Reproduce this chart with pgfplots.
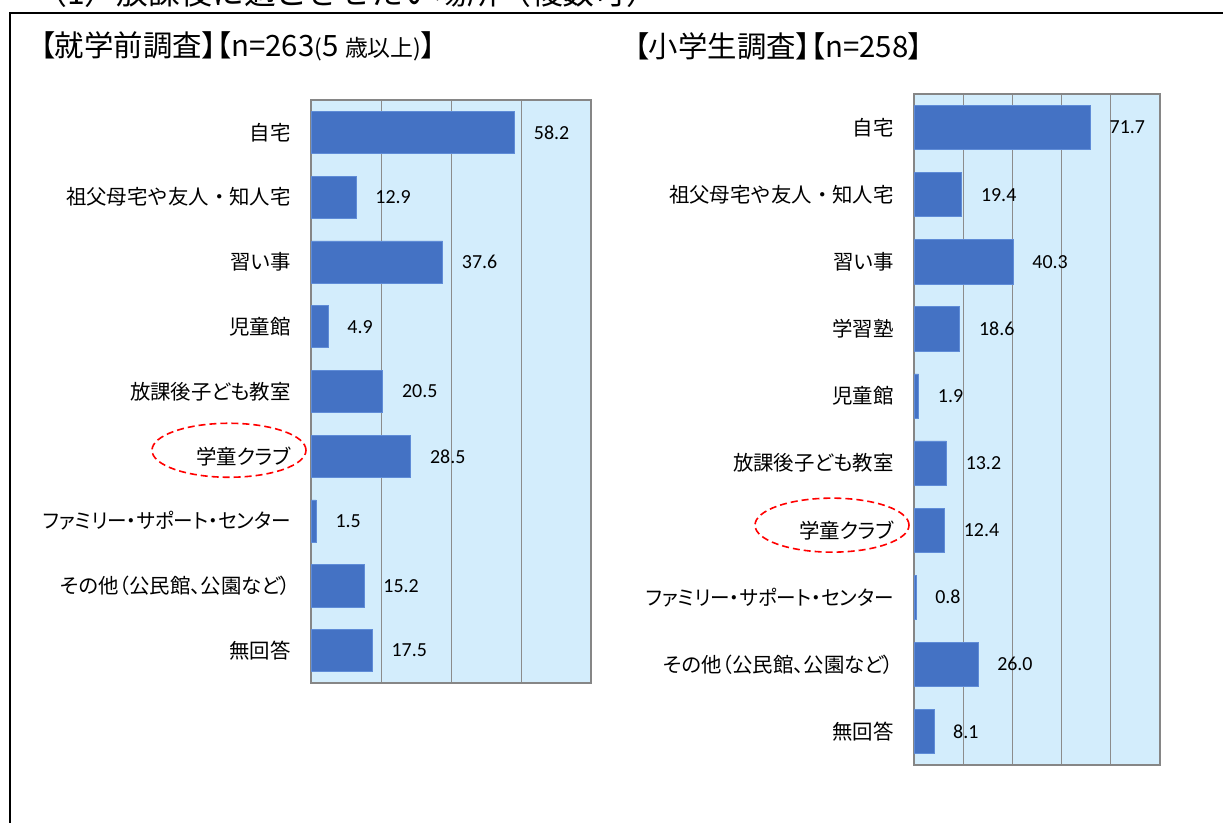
\documentclass[border=0pt]{standalone}
\usepackage{fontspec}
\usepackage{pgfplots}
\usepackage{pgfplotstable}
\pgfplotsset{compat=1.18}
\setmainfont{Carlito}
\newfontfamily\jp[RawFeature=+palt]{Noto Sans CJK JP}
\newfontfamily\jpf{Noto Sans CJK JP}
\definecolor{barblue}{RGB}{68,114,196}
\definecolor{baredge}{RGB}{95,140,215}
\definecolor{bgblue}{RGB}{211,237,252}
\definecolor{gridgray}{RGB}{140,140,140}
\definecolor{axgray}{RGB}{134,134,134}

\pgfplotstableread{
y v
0 58.2
1 12.9
2 37.6
3 4.9
4 20.5
5 28.5
6 1.5
7 15.2
8 17.5
}\leftdata

\pgfplotstableread{
y v
0 71.7
1 19.4
2 40.3
3 18.6
4 1.9
5 13.2
6 12.4
7 0.8
8 26.0
9 8.1
}\rightdata

\newcommand{\fullw}[1]{{\jpf #1}}
\newcommand{\famsup}{\scalebox{0.96}[1]{ファミリー・サポート・センター}}

\pgfplotsset{mybar/.style={
  xbar, scale only axis, clip=false,
  axis background/.style={fill=bgblue},
  y dir=reverse,
  xmin=0, xticklabels={}, xmajorgrids,
  grid style={gridgray, line width=0.8bp},
  axis line style={axgray, line width=2bp},
  major tick length=0pt,
  nodes near coords,
  nodes near coords style={font=\fontsize{20}{20}\selectfont, anchor=west, inner sep=0pt, xshift=19bp, text=black},
  /pgf/number format/fixed,
  /pgf/number format/fixed zerofill,
  /pgf/number format/precision=1,
  /pgf/number format/assume math mode=true,
  yticklabel style={font=\jp\fontsize{20.5}{20.5}\selectfont, inner sep=0pt, xshift=-20bp, text=black},
}}

\begin{document}
\begin{tikzpicture}
\useasboundingbox (0,0) rectangle (1223bp,823bp);
\clip (0,0) rectangle (1223bp,823bp);
\draw[line width=2bp] (10bp,-10bp) -- (10bp,810bp) -- (1240bp,810bp);
\node[anchor=base west, inner sep=0pt, font=\jpf\fontsize{32}{32}\selectfont] at (35bp,818bp) {（1）放課後に過ごさせたい場所（複数可）};
\node[anchor=west, inner sep=0pt, font=\jp\fontsize{29.5}{29.5}\selectfont] at (40bp,777bp) {【就学前調査】【n=263{\fontsize{23}{23}\selectfont(}5 {\fontsize{23}{23}\selectfont 歳以上)}】};
\node[anchor=west, inner sep=0pt, font=\jp\fontsize{29.5}{29.5}\selectfont] at (634bp,777bp) {【小学生調査】【n=258】};

\begin{axis}[mybar, at={(311bp,723bp)}, anchor=north west,
  width=280bp, height=583bp, xmax=80, xtick={20,40,60},
  ymin=-0.5, ymax=8.5, ytick={0,...,8}, bar width=0.65,
  yticklabels={自宅, \fullw{祖父母宅や友人・知人宅}, 習い事, 児童館, 放課後子ども教室, 学童クラブ, \famsup, その他（公民館、公園など）, 無回答}]
\addplot[fill=barblue, draw=baredge, line width=0.6bp] table[x=v, y=y] {\leftdata};
\draw[red, dashed, line width=1.6bp, dash pattern=on 7bp off 4bp] ([xshift=-82bp, yshift=6bp]axis cs:0,5) ellipse [x radius=77bp, y radius=27bp];
\end{axis}

\begin{axis}[mybar, at={(914bp,729bp)}, anchor=north west,
  width=246bp, height=671bp, xmax=100, xtick={20,40,60,80},
  ymin=-0.5, ymax=9.5, ytick={0,...,9}, bar width=0.66,
  yticklabels={自宅, \fullw{祖父母宅や友人・知人宅}, 習い事, 学習塾, 児童館, 放課後子ども教室, 学童クラブ, \famsup, その他（公民館、公園など）, 無回答}]
\addplot[fill=barblue, draw=baredge, line width=0.6bp] table[x=v, y=y] {\rightdata};
\draw[red, dashed, line width=1.6bp, dash pattern=on 7bp off 4bp] ([xshift=-82bp, yshift=5bp]axis cs:0,6) ellipse [x radius=77bp, y radius=27bp];
\end{axis}
\end{tikzpicture}
\end{document}
